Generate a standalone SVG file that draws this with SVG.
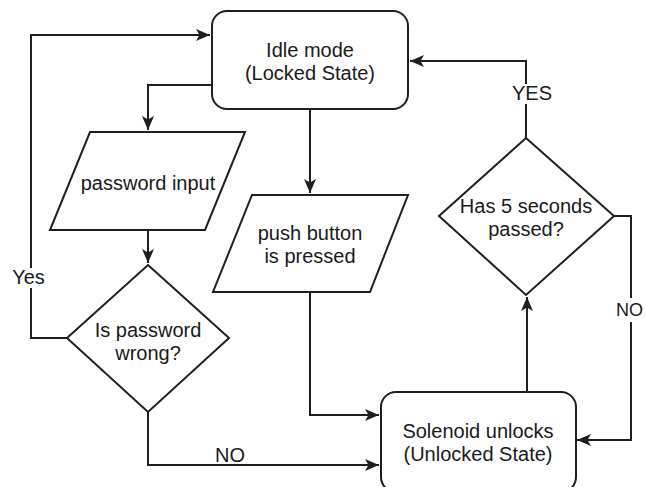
<svg xmlns="http://www.w3.org/2000/svg" width="645" height="487" viewBox="0 0 645 487">
<defs>
<style>
.shape{fill:#ffffff;stroke:#1f1f1f;stroke-width:2}
.edge{fill:none;stroke:#1f1f1f;stroke-width:2}
text{font-family:"Liberation Sans",Arial,sans-serif;font-size:20px;fill:#1a1a1a;text-anchor:middle}
.lbl{fill:#ffffff;stroke:none}
</style>
<marker id="arr" markerUnits="userSpaceOnUse" viewBox="0 0 14 12" refX="14" refY="6" markerWidth="14" markerHeight="12" orient="auto">
<path d="M0,0 L14,6 L0,12 L3.5,6 Z" fill="#1f1f1f"/>
</marker>
</defs>
<rect width="645" height="487" fill="#ffffff"/>
<g id="connectors">
<path class="edge" d="M67,338 H31 V35 H210" marker-end="url(#arr)"/>
<path class="edge" d="M212,85 H148 V130" marker-end="url(#arr)"/>
<path class="edge" d="M310,109 V193" marker-end="url(#arr)"/>
<path class="edge" d="M148,230 V263" marker-end="url(#arr)"/>
<path class="edge" d="M310,292 V415 H379" marker-end="url(#arr)"/>
<path class="edge" d="M148,412 V465 H379" marker-end="url(#arr)"/>
<path class="edge" d="M527,392 V297" marker-end="url(#arr)"/>
<path class="edge" d="M526,138 V61 H410" marker-end="url(#arr)"/>
<path class="edge" d="M614,216 H631 V440 H577" marker-end="url(#arr)"/>
<rect class="lbl" x="12" y="268" width="34" height="20"/>
<text x="28.5" y="284">Yes</text>
<rect class="lbl" x="213" y="446" width="32" height="18"/>
<text x="230" y="462">NO</text>
<rect class="lbl" x="512" y="84" width="40" height="20"/>
<text x="532" y="100">YES</text>
<rect class="lbl" x="615" y="298" width="30" height="24"/>
<text x="616" y="316" style="text-anchor:start;font-size:18px">NO</text>
</g>
<g id="idle">
<rect class="shape" x="212" y="11" width="196" height="98" rx="15" ry="15"/>
<text x="310" y="57">Idle mode</text>
<text x="310" y="80">(Locked State)</text>
</g>
<g id="password-input">
<polygon class="shape" points="90,132 245,132 205,230 50,230"/>
<text x="148" y="190">password input</text>
</g>
<g id="push-button">
<polygon class="shape" points="252,195 408,195 370,292 213,292"/>
<text x="310" y="240">push button</text>
<text x="310" y="263">is pressed</text>
</g>
<g id="password-wrong">
<polygon class="shape" points="148,265 229,338 148,412 67,338"/>
<text x="148" y="337">Is password</text>
<text x="148" y="360">wrong?</text>
</g>
<g id="five-seconds">
<polygon class="shape" points="526,138 614,216 526,295 439,216"/>
<text x="526" y="213">Has 5 seconds</text>
<text x="526" y="236">passed?</text>
</g>
<g id="solenoid">
<rect class="shape" x="381" y="392" width="195" height="100" rx="15" ry="15"/>
<text x="478" y="438">Solenoid unlocks</text>
<text x="478" y="461">(Unlocked State)</text>
</g>
</svg>
